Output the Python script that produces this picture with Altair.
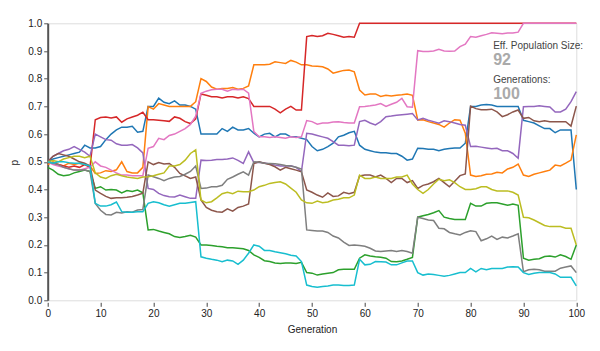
import altair as alt
import pandas as pd

generations = list(range(0, 101))

blue = [0.50, 0.51, 0.515, 0.52, 0.525, 0.53, 0.535, 0.56, 0.55,
        0.55, 0.555, 0.58, 0.60, 0.615, 0.625, 0.625, 0.628, 0.607, 0.61,
        0.70, 0.70, 0.73, 0.715, 0.71, 0.72, 0.705, 0.705, 0.70, 0.69,
        0.60, 0.60, 0.60, 0.60, 0.62, 0.61, 0.625, 0.615, 0.615, 0.62,
        0.603, 0.59, 0.60, 0.603, 0.59, 0.60, 0.60, 0.59, 0.59, 0.585,
        0.58, 0.555, 0.54, 0.545, 0.555, 0.567, 0.59, 0.596, 0.605, 0.61,
        0.56, 0.545, 0.54, 0.535, 0.533, 0.533, 0.53, 0.53, 0.52, 0.506, 0.51,
        0.549, 0.548, 0.545, 0.545, 0.54, 0.545, 0.548, 0.55, 0.55, 0.567,
        0.70, 0.70, 0.705, 0.707, 0.705, 0.70, 0.70, 0.70, 0.70, 0.70,
        0.65, 0.645, 0.64, 0.63, 0.62, 0.62, 0.605, 0.615, 0.615, 0.615,
        0.40]

orange = [0.49, 0.50, 0.49, 0.485, 0.495, 0.49, 0.495, 0.49, 0.485,
          0.458, 0.46, 0.468, 0.465, 0.471, 0.50, 0.465, 0.46, 0.46, 0.48,
          0.699, 0.69, 0.71, 0.705, 0.70, 0.70, 0.70, 0.70, 0.70, 0.717,
          0.80, 0.79, 0.77, 0.762, 0.765, 0.765, 0.768, 0.762, 0.765, 0.774,
          0.85, 0.85, 0.85, 0.852, 0.861, 0.858, 0.855, 0.866, 0.86, 0.85,
          0.85, 0.846, 0.845, 0.843, 0.835, 0.82, 0.825, 0.83, 0.831, 0.825,
          0.759, 0.741, 0.745, 0.745, 0.736, 0.74, 0.738, 0.74, 0.742, 0.745, 0.74,
          0.651, 0.652, 0.645, 0.64, 0.635, 0.625, 0.64, 0.652, 0.65, 0.603,
          0.452, 0.447, 0.45, 0.455, 0.456, 0.462, 0.46, 0.474, 0.48, 0.492,
          0.452, 0.447, 0.455, 0.46, 0.465, 0.47, 0.488, 0.485, 0.495, 0.506,
          0.597]

green = [0.48, 0.47, 0.455, 0.45, 0.452, 0.46, 0.465, 0.47, 0.465,
         0.404, 0.41, 0.398, 0.40, 0.398, 0.388, 0.396, 0.393, 0.398, 0.388,
         0.254, 0.256, 0.25, 0.245, 0.24, 0.23, 0.227, 0.23, 0.235, 0.228,
         0.20, 0.20, 0.198, 0.195, 0.193, 0.19, 0.19, 0.188, 0.186, 0.18,
         0.164, 0.155, 0.143, 0.14, 0.135, 0.133, 0.135, 0.135, 0.133, 0.137,
         0.10, 0.098, 0.091, 0.095, 0.098, 0.10, 0.11, 0.112, 0.112, 0.112,
         0.152, 0.164, 0.16, 0.157, 0.155, 0.152, 0.14, 0.139, 0.142, 0.148, 0.155,
         0.30, 0.305, 0.31, 0.316, 0.324, 0.30, 0.295, 0.292, 0.292, 0.292,
         0.35, 0.34, 0.34, 0.35, 0.352, 0.352, 0.348, 0.343, 0.348, 0.343,
         0.152, 0.145, 0.148, 0.15, 0.158, 0.16, 0.156, 0.164, 0.158, 0.148,
         0.20]

red = [0.50, 0.495, 0.49, 0.485, 0.48, 0.485, 0.48, 0.49, 0.48,
       0.652, 0.66, 0.662, 0.658, 0.662, 0.643, 0.655, 0.662, 0.668, 0.679,
       0.652, 0.652, 0.65, 0.648, 0.646, 0.662, 0.657, 0.645, 0.638, 0.655,
       0.745, 0.74, 0.735, 0.735, 0.73, 0.735, 0.735, 0.73, 0.735, 0.728,
       0.70, 0.70, 0.70, 0.70, 0.69, 0.677, 0.69, 0.70, 0.687, 0.687,
       0.952, 0.956, 0.952, 0.955, 0.964, 0.96, 0.955, 0.95, 0.952, 0.95,
       1.0, 1.0, 1.0, 1.0, 1.0, 1.0, 1.0, 1.0, 1.0, 1.0, 1.0,
       1.0, 1.0, 1.0, 1.0, 1.0, 1.0, 1.0, 1.0, 1.0, 1.0,
       1.0, 1.0, 1.0, 1.0, 1.0, 1.0, 1.0, 1.0, 1.0, 1.0,
       1.0, 1.0, 1.0, 1.0, 1.0, 1.0, 1.0, 1.0, 1.0, 1.0,
       1.0]

purple = [0.50, 0.52, 0.53, 0.54, 0.545, 0.555, 0.545, 0.535, 0.52,
          0.60, 0.59, 0.58, 0.578, 0.565, 0.56, 0.56, 0.562, 0.55, 0.532,
          0.404, 0.40, 0.386, 0.378, 0.374, 0.373, 0.38, 0.374, 0.368, 0.368,
          0.506, 0.505, 0.506, 0.508, 0.508, 0.51, 0.514, 0.505, 0.494, 0.536,
          0.497, 0.498, 0.496, 0.492, 0.488, 0.485, 0.485, 0.486, 0.48, 0.465,
          0.603, 0.60, 0.595, 0.59, 0.585, 0.573, 0.56, 0.56, 0.558, 0.56,
          0.645, 0.65, 0.64, 0.633, 0.645, 0.663, 0.665, 0.668, 0.67, 0.672, 0.674,
          0.651, 0.657, 0.65, 0.645, 0.639, 0.648, 0.645, 0.64, 0.635, 0.632,
          0.555, 0.556, 0.553, 0.55, 0.547, 0.549, 0.54, 0.54, 0.53, 0.513,
          0.699, 0.70, 0.70, 0.702, 0.70, 0.698, 0.68, 0.68, 0.69, 0.717,
          0.753]

brown = [0.50, 0.52, 0.53, 0.525, 0.52, 0.51, 0.50, 0.495, 0.485,
         0.398, 0.386, 0.375, 0.368, 0.37, 0.37, 0.372, 0.375, 0.38, 0.387,
         0.50, 0.49, 0.497, 0.492, 0.494, 0.48, 0.458, 0.449, 0.44, 0.445,
         0.362, 0.335, 0.325, 0.32, 0.318, 0.33, 0.322, 0.335, 0.34, 0.348,
         0.494, 0.50, 0.495, 0.49, 0.482, 0.47, 0.48, 0.475, 0.47, 0.464,
         0.398, 0.39, 0.38, 0.372, 0.388, 0.375, 0.377, 0.39, 0.385, 0.39,
         0.449, 0.452, 0.452, 0.445, 0.452, 0.44, 0.425, 0.44, 0.44, 0.425, 0.432,
         0.404, 0.415, 0.42, 0.428, 0.44, 0.425, 0.41, 0.43, 0.45, 0.456,
         0.701, 0.692, 0.688, 0.688, 0.69, 0.68, 0.663, 0.67, 0.68, 0.687,
         0.657, 0.66, 0.648, 0.645, 0.648, 0.645, 0.645, 0.645, 0.645, 0.629,
         0.701]

pink = [0.50, 0.49, 0.485, 0.48, 0.475, 0.47, 0.47, 0.475, 0.48,
        0.50, 0.485, 0.48, 0.47, 0.46, 0.452, 0.452, 0.45, 0.45, 0.45,
        0.549, 0.555, 0.585, 0.58, 0.595, 0.60, 0.61, 0.62, 0.635, 0.665,
        0.747, 0.755, 0.76, 0.762, 0.762, 0.755, 0.762, 0.76, 0.762, 0.748,
        0.609, 0.59, 0.59, 0.588, 0.59, 0.588, 0.585, 0.59, 0.588, 0.59,
        0.649, 0.645, 0.636, 0.64, 0.64, 0.644, 0.645, 0.642, 0.64, 0.64,
        0.699, 0.70, 0.702, 0.705, 0.71, 0.70, 0.708, 0.715, 0.729, 0.699, 0.697,
        0.901, 0.898, 0.898, 0.90, 0.906, 0.90, 0.899, 0.90, 0.916, 0.925,
        0.952, 0.95, 0.955, 0.96, 0.966, 0.964, 0.962, 0.965, 0.965, 0.968,
        1.0, 1.0, 1.0, 1.0, 1.0, 1.0, 1.0, 1.0, 1.0, 1.0,
        1.0]

grey = [0.50, 0.495, 0.49, 0.48, 0.475, 0.47, 0.47, 0.47, 0.465,
        0.35, 0.325, 0.31, 0.308, 0.318, 0.315, 0.32, 0.318, 0.326, 0.328,
        0.452, 0.446, 0.44, 0.432, 0.44, 0.445, 0.447, 0.455, 0.465, 0.485,
        0.404, 0.405, 0.41, 0.41, 0.415, 0.437, 0.445, 0.455, 0.464, 0.452,
        0.50, 0.498, 0.495, 0.494, 0.493, 0.49, 0.487, 0.485, 0.48, 0.474,
        0.254, 0.252, 0.25, 0.25, 0.245, 0.232, 0.225, 0.21, 0.198, 0.20,
        0.198, 0.195, 0.188, 0.178, 0.176, 0.178, 0.18, 0.176, 0.18, 0.176, 0.17,
        0.30, 0.295, 0.29, 0.288, 0.26, 0.258, 0.245, 0.24, 0.236, 0.245,
        0.251, 0.248, 0.215, 0.222, 0.232, 0.22, 0.228, 0.225, 0.232, 0.24,
        0.103, 0.11, 0.112, 0.11, 0.105, 0.105, 0.105, 0.116, 0.12, 0.124,
        0.10]

olive = [0.50, 0.505, 0.50, 0.51, 0.515, 0.52, 0.52, 0.515, 0.52,
         0.46, 0.445, 0.44, 0.45, 0.455, 0.45, 0.445, 0.442, 0.44, 0.445,
         0.446, 0.45, 0.455, 0.46, 0.485, 0.485, 0.49, 0.506, 0.53, 0.543,
         0.362, 0.352, 0.356, 0.37, 0.385, 0.39, 0.385, 0.394, 0.392, 0.392,
         0.398, 0.41, 0.415, 0.422, 0.425, 0.428, 0.42, 0.405, 0.39, 0.362,
         0.352, 0.35, 0.358, 0.352, 0.355, 0.362, 0.365, 0.37, 0.37, 0.38,
         0.452, 0.44, 0.44, 0.445, 0.44, 0.44, 0.44, 0.445, 0.445, 0.452, 0.42,
         0.40, 0.386, 0.40, 0.42, 0.437, 0.432, 0.435, 0.425, 0.41, 0.40,
         0.40, 0.403, 0.41, 0.41, 0.40, 0.395, 0.395, 0.395, 0.39, 0.38,
         0.30, 0.298, 0.29, 0.28, 0.27, 0.266, 0.266, 0.266, 0.26, 0.26,
         0.20]

cyan = [0.50, 0.495, 0.50, 0.50, 0.497, 0.495, 0.495, 0.49, 0.485,
        0.35, 0.34, 0.34, 0.345, 0.355, 0.32, 0.318, 0.318, 0.32, 0.32,
        0.35, 0.356, 0.352, 0.345, 0.34, 0.345, 0.35, 0.35, 0.353, 0.356,
        0.157, 0.152, 0.148, 0.145, 0.139, 0.145, 0.142, 0.13, 0.145, 0.17,
        0.20, 0.195, 0.18, 0.18, 0.175, 0.172, 0.168, 0.163, 0.16, 0.14,
        0.055, 0.05, 0.047, 0.05, 0.052, 0.055, 0.055, 0.053, 0.053, 0.055,
        0.148, 0.128, 0.13, 0.14, 0.139, 0.138, 0.128, 0.128, 0.135, 0.142, 0.142,
        0.10, 0.091, 0.095, 0.093, 0.09, 0.087, 0.09, 0.095, 0.10, 0.10,
        0.115, 0.103, 0.115, 0.11, 0.115, 0.115, 0.115, 0.12, 0.121, 0.12,
        0.10, 0.093, 0.098, 0.10, 0.10, 0.10, 0.095, 0.083, 0.083, 0.083,
        0.052]

series_names = ["s0", "s1", "s2", "s3", "s4", "s5", "s6", "s7", "s8", "s9"]
series_values = [blue, orange, green, red, purple, brown, pink, grey, olive, cyan]
series_colors = ["#1f77b4", "#ff7f0e", "#2ca02c", "#d62728", "#9467bd",
                 "#8c564b", "#e377c2", "#7f7f7f", "#bcbd22", "#17becf"]

info_labels = ["Eff. Population Size:", "Generations:"]
info_values = ["92", "100"]

x_ticks = list(range(0, 101, 10))
y_ticks = [round(i * 0.1, 1) for i in range(11)]

rows = []
for name, vals in zip(series_names, series_values):
    for g, v in zip(generations, vals):
        rows.append({"series": name, "gen": g, "p": v})
df = pd.DataFrame(rows)

FONT = "Liberation Sans"

lines = alt.Chart(df).mark_line(strokeWidth=1.5, interpolate="linear").encode(
    x=alt.X("gen:Q", scale=alt.Scale(domain=[0, 100], nice=False),
            axis=alt.Axis(values=x_ticks, title="Generation", domain=False,
                          offset=2, tickSize=4, tickColor="#444",
                          labelFontSize=10, labelColor="#222", labelPadding=2,
                          labelFlush=False, labelOverlap=False,
                          titleFontSize=10, titleFontWeight="normal", titleColor="#222",
                          titleY=27, titleBaseline="middle", grid=False)),
    y=alt.Y("p:Q", scale=alt.Scale(domain=[0, 1], nice=False),
            axis=alt.Axis(values=y_ticks, format=".1f", title="p",
                          domain=True, domainWidth=2, domainColor="#555",
                          tickSize=4, tickColor="#555", labelFontSize=10,
                          labelColor="#222", labelPadding=2,
                          labelFlush=False, labelOverlap=False,
                          titleFontSize=10, titleFontWeight="normal", titleColor="#222",
                          titleX=-33, titleY=139, titleAngle=-90,
                          titleBaseline="middle", titleAlign="center", grid=False)),
    color=alt.Color("series:N", scale=alt.Scale(domain=series_names, range=series_colors),
                    legend=None),
    detail="series:N",
)

def label(text, y, size, color, weight):
    return alt.Chart(pd.DataFrame({"t": [text]})).mark_text(
        align="left", baseline="alphabetic", fontSize=size, color=color,
        fontWeight=weight, font=FONT
    ).encode(x=alt.value(445.5), y=alt.value(y), text="t:N")

texts = [
    label(info_labels[0], 25.8, 10, "#444", "normal"),
    label(info_values[0], 41.8, 16, "#aaaaaa", "bold"),
    label(info_labels[1], 59.4, 10, "#444", "normal"),
    label(info_values[1], 76.0, 16, "#aaaaaa", "bold"),
]

chart = alt.layer(lines, *texts).properties(
    width=528.6, height=277,
    autosize=alt.AutoSizeParams(type="none"),
    padding={"left": 47.7, "top": 23.3, "right": 23.7, "bottom": 50.7},
).configure_view(strokeWidth=0).configure(font=FONT)

chart.save("out.html", embed_options={"renderer": "svg", "actions": False})
